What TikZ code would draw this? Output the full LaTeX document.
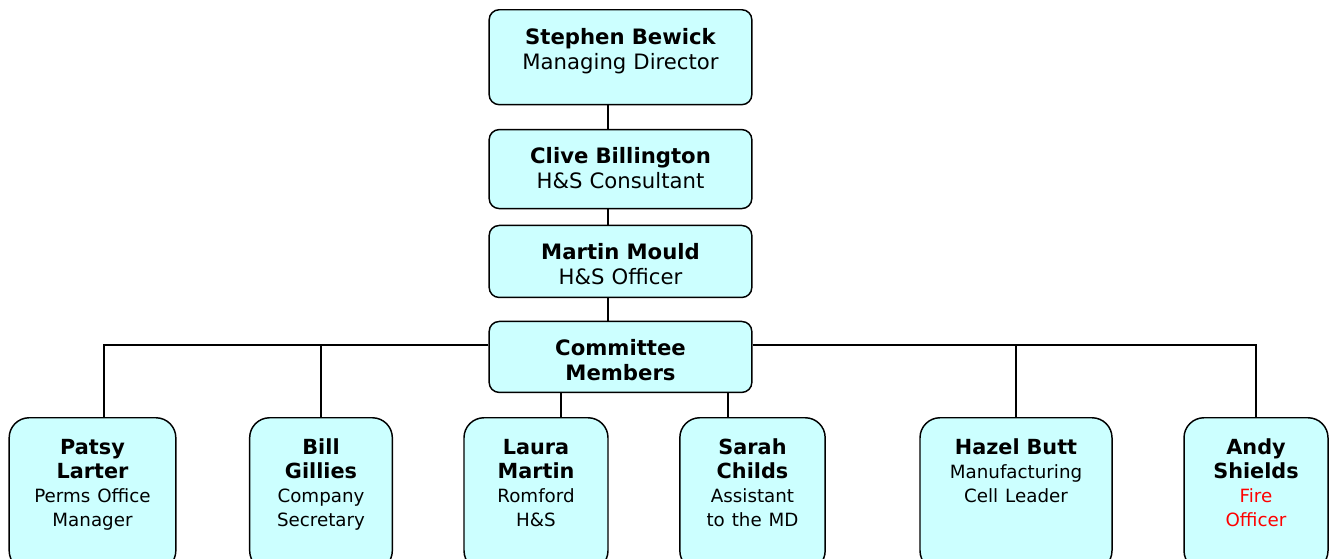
\documentclass[tikz,border=0pt]{standalone}
\usepackage{fontspec}
\setmainfont{DejaVu Sans}
\usetikzlibrary{positioning}
\definecolor{cardfill}{HTML}{CCFFFF}
\newcommand{\rolefont}{\fontsize{13.7}{18}\selectfont}

\begin{document}
\begin{tikzpicture}[x=0.75pt, y=-0.75pt,
  card/.style={draw, line width=1.1pt, fill=cardfill, anchor=north, align=center, inner sep=0pt},
  head/.style={card, rounded corners=7.5pt, text width=197pt, text height=25.7pt,
    font=\fontsize{15.9}{18.75}\selectfont},
  member/.style={card, rounded corners=15pt, text height=27.2pt, text depth=87.5pt,
    font=\fontsize{15.6}{18}\selectfont},
  link/.style={line width=1.1pt}]
  \useasboundingbox (0,0) rectangle (1334,558);
  \clip (0,0) rectangle (1334,558);

  % management chain
  \node[head, text depth=45.5pt] (md) at (620.5,9) {{\bfseries Stephen Bewick}\\Managing Director};
  \node[head, text depth=33.5pt, below=17.6pt of md] (cons) {{\bfseries Clive Billington}\\H\&S Consultant};
  \node[head, text depth=28.3pt, below=11.6pt of cons] (off) {{\bfseries Martin Mould}\\H\&S Officer};
  \node[head, text depth=27.5pt, below=16.9pt of off] (cm) {{\bfseries Committee\\Members}};

  % committee members
  \node[member, text width=125pt] (pl) at (92.5,417) {{\bfseries Patsy\\Larter}\\{\rolefont Perms Office\\Manager}};
  \node[member, text width=107pt] (bg) at (321,417) {{\bfseries Bill\\Gillies}\\{\rolefont Company\\Secretary}};
  \node[member, text width=108pt] (lm) at (536,417) {{\bfseries Laura\\Martin}\\{\rolefont Romford\\H\&S}};
  \node[member, text width=109pt] (sc) at (752.5,417) {{\bfseries Sarah\\Childs}\\{\rolefont Assistant\\to the MD}};
  \node[member, text width=144pt] (hb) at (1016,417) {{\bfseries Hazel Butt}\\{\rolefont Manufacturing\\Cell Leader}};
  \node[member, text width=108pt] (as) at (1256,417) {{\bfseries Andy\\Shields}\\{\rolefont\color{red}Fire\\Officer}};

  % connectors
  \coordinate (spine) at (608,0);
  \coordinate (bus) at (0,345);
  \coordinate (pltap) at ([xshift=8.6pt]pl.north);
  \coordinate (lmtap) at ([xshift=18.75pt]lm.north);
  \coordinate (sctap) at ([xshift=-18.4pt]sc.north);
  \draw[link] (md.south -| spine) -- (cons.north -| spine);
  \draw[link] (cons.south -| spine) -- (off.north -| spine);
  \draw[link] (off.south -| spine) -- (cm.north -| spine);
  \draw[link] (cm.west |- bus) -| (pltap);
  \draw[link] (cm.west |- bus) -| (bg.north);
  \draw[link] (cm.east |- bus) -| (hb.north);
  \draw[link] (cm.east |- bus) -| (as.north);
  \draw[link] (cm.south -| lmtap) -- (lmtap);
  \draw[link] (cm.south -| sctap) -- (sctap);
\end{tikzpicture}
\end{document}
